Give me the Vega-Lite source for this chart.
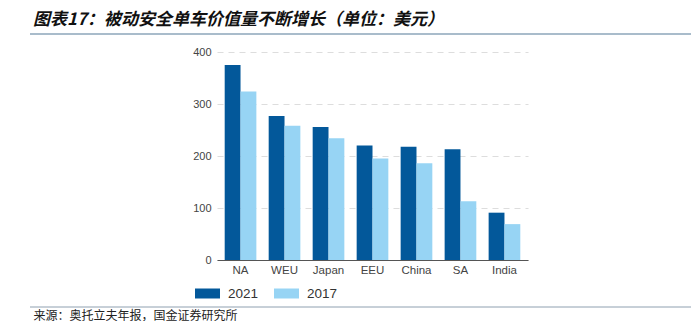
{
  "$schema": "https://vega.github.io/schema/vega-lite/v6.json",
  "width": 311,
  "height": 208,
  "autosize": {"type": "none"},
  "padding": {"left": 217, "top": 52, "right": 168, "bottom": 61},
  "background": "white",
  "config": {"view": {"stroke": null}, "font": "Liberation Sans"},
  "title": {
    "text": "图表17：被动安全单车价值量不断增长（单位：美元）",
    "font": "Noto Sans CJK SC",
    "fontSize": 17,
    "fontStyle": "italic",
    "fontWeight": "bold",
    "color": "#111111",
    "anchor": "start",
    "frame": "group",
    "dx": -184,
    "offset": 4
  },
  "layer": [
    {
      "data": {"values": [
        {"region": "NA", "year": "2021", "value": 375},
        {"region": "NA", "year": "2017", "value": 324},
        {"region": "WEU", "year": "2021", "value": 277},
        {"region": "WEU", "year": "2017", "value": 258},
        {"region": "Japan", "year": "2021", "value": 256},
        {"region": "Japan", "year": "2017", "value": 234},
        {"region": "EEU", "year": "2021", "value": 220},
        {"region": "EEU", "year": "2017", "value": 195},
        {"region": "China", "year": "2021", "value": 218},
        {"region": "China", "year": "2017", "value": 186},
        {"region": "SA", "year": "2021", "value": 213},
        {"region": "SA", "year": "2017", "value": 113},
        {"region": "India", "year": "2021", "value": 91},
        {"region": "India", "year": "2017", "value": 69}
      ]},
      "mark": {"type": "bar"},
      "encoding": {
        "x": {
          "field": "region",
          "type": "nominal",
          "sort": ["NA", "WEU", "Japan", "EEU", "China", "SA", "India"],
          "scale": {"paddingInner": 0.28, "paddingOuter": 0.175},
          "axis": {
            "title": "来源：奥托立夫年报，国金证券研究所",
            "titleFont": "Noto Sans CJK SC",
            "titleFontSize": 12,
            "titleFontWeight": "normal",
            "titleColor": "#222222",
            "titleAnchor": "start",
            "titleAlign": "left",
            "titleBaseline": "middle",
            "titleX": -184,
            "titleY": 55,
            "labelAngle": 0,
            "labelFontSize": 11.5,
            "labelColor": "#444444",
            "labelPadding": 4,
            "ticks": false,
            "domainColor": "#555555",
            "domainWidth": 1
          }
        },
        "xOffset": {
          "field": "year",
          "type": "nominal",
          "sort": ["2021", "2017"],
          "scale": {"paddingInner": 0, "paddingOuter": 0}
        },
        "y": {
          "field": "value",
          "type": "quantitative",
          "scale": {"domain": [0, 400]},
          "axis": {
            "title": null,
            "values": [0, 100, 200, 300, 400],
            "domain": false,
            "ticks": false,
            "labelPadding": 6,
            "labelFontSize": 11,
            "labelColor": "#444444",
            "gridColor": "#dddddd",
            "gridDash": [6, 5]
          }
        },
        "color": {
          "field": "year",
          "type": "nominal",
          "scale": {"domain": ["2021", "2017"], "range": ["#03589a", "#97d4f4"]},
          "legend": {
            "title": null,
            "orient": "none",
            "direction": "horizontal",
            "legendX": -22,
            "legendY": 229,
            "symbolType": "M-1,-0.4L1,-0.4L1,0.4L-1,0.4Z",
            "symbolSize": 625,
            "symbolStrokeWidth": 0,
            "labelFontSize": 13.5,
            "labelColor": "#333333",
            "labelOffset": 8,
            "columnPadding": 15
          }
        }
      }
    },
    {
      "data": {"values": [{"line": "title"}]},
      "mark": {"type": "rule", "color": "#a9bccb", "strokeWidth": 2},
      "encoding": {"x": {"value": -187}, "x2": {"value": 474}, "y": {"value": -18}}
    },
    {
      "data": {"values": [{"line": "source"}]},
      "mark": {"type": "rule", "color": "#8fa0b0", "strokeWidth": 1},
      "encoding": {"x": {"value": -187}, "x2": {"value": 474}, "y": {"value": 255}}
    }
  ]
}
